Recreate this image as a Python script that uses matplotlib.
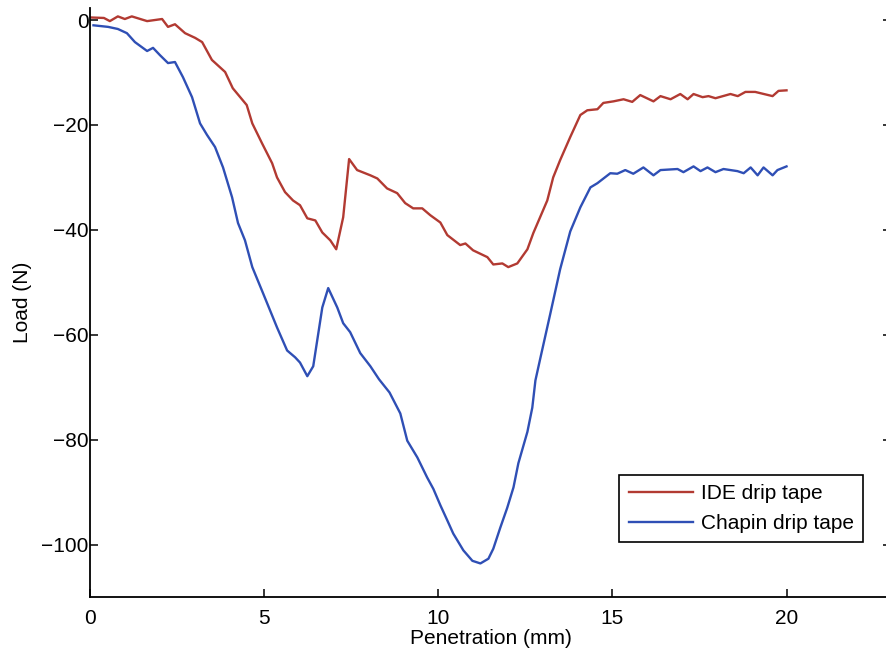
import matplotlib
matplotlib.use("Agg")
import matplotlib.pyplot as plt

# penetration (mm) / load (N)
ide_x = [0.0, 0.4, 0.57, 0.8, 1.0, 1.2, 1.64, 2.07, 2.24, 2.44, 2.73, 3.02, 3.22, 3.5,
         3.88, 4.1, 4.5, 4.66, 4.94, 5.23, 5.37, 5.6, 5.83, 6.03, 6.24, 6.47, 6.67, 6.9,
         7.07, 7.27, 7.44, 7.67, 8.05, 8.25, 8.53, 8.82, 9.05, 9.28, 9.54, 9.77, 10.06,
         10.26, 10.63, 10.78, 11.0, 11.41, 11.58, 11.84, 12.01, 12.27, 12.56, 12.73,
         12.93, 13.13, 13.3, 13.5, 13.79, 14.08, 14.28, 14.57, 14.74, 15.03, 15.32,
         15.57, 15.8, 16.18, 16.38, 16.67, 16.95, 17.16, 17.33, 17.59, 17.76, 17.96,
         18.39, 18.6, 18.82, 19.1, 19.6, 19.77, 20.0]
ide_y = [0.5, 0.4, -0.2, 0.7, 0.2, 0.7, -0.2, 0.2, -1.3, -0.8, -2.5, -3.4, -4.2, -7.6,
         -9.9, -13.0, -16.2, -19.7, -23.5, -27.3, -30.0, -32.8, -34.4, -35.3, -37.8,
         -38.2, -40.5, -42.0, -43.7, -37.6, -26.5, -28.6, -29.6, -30.2, -32.1, -33.0,
         -34.9, -35.9, -35.9, -37.2, -38.6, -41.0, -42.9, -42.6, -43.9, -45.2, -46.6,
         -46.4, -47.1, -46.4, -43.7, -40.6, -37.5, -34.4, -30.0, -26.7, -22.3, -18.1,
         -17.2, -17.0, -15.8, -15.5, -15.1, -15.6, -14.3, -15.5, -14.5, -15.1, -14.1,
         -15.1, -14.1, -14.7, -14.5, -14.9, -14.1, -14.5, -13.7, -13.7, -14.5, -13.5,
         -13.4]

chapin_x = [0.1, 0.52, 0.8, 1.06, 1.29, 1.64, 1.81, 2.01, 2.24, 2.44, 2.67, 2.93, 3.16,
            3.36, 3.59, 3.82, 4.08, 4.25, 4.45, 4.66, 4.97, 5.37, 5.66, 5.89, 6.03, 6.24,
            6.41, 6.67, 6.84, 7.1, 7.27, 7.47, 7.76, 8.05, 8.3, 8.6, 8.91, 9.11, 9.4,
            9.68, 9.86, 10.06, 10.26, 10.43, 10.72, 10.98, 11.21, 11.44, 11.58, 11.78,
            11.98, 12.16, 12.3, 12.56, 12.7, 12.79, 12.93, 13.22, 13.5, 13.79, 14.08,
            14.37, 14.57, 14.94, 15.14, 15.37, 15.6, 15.89, 16.18, 16.38, 16.87, 17.04,
            17.33, 17.53, 17.73, 17.96, 18.19, 18.59, 18.77, 18.97, 19.17, 19.34, 19.6,
            19.74, 20.0]
chapin_y = [-1.0, -1.3, -1.7, -2.5, -4.2, -5.9, -5.3, -6.7, -8.2, -8.0, -10.9, -14.7,
            -19.7, -21.9, -24.2, -28.1, -33.8, -38.7, -42.0, -47.1, -52.1, -58.6, -63.0,
            -64.3, -65.3, -67.9, -66.0, -54.8, -51.1, -54.8, -57.8, -59.5, -63.5, -66.0,
            -68.5, -71.0, -75.0, -80.2, -83.4, -87.2, -89.4, -92.5, -95.4, -97.9, -101.1,
            -103.1, -103.6, -102.7, -100.8, -96.8, -93.0, -89.1, -84.5, -78.5, -73.9,
            -68.7, -64.5, -55.9, -47.5, -40.3, -35.7, -31.9, -31.1, -29.2, -29.3, -28.6,
            -29.3, -28.1, -29.6, -28.6, -28.4, -29.0, -27.9, -28.8, -28.1, -29.0, -28.4,
            -28.8, -29.2, -28.1, -29.6, -28.1, -29.6, -28.6, -27.9]

xticks = [0, 5, 10, 15, 20]
yticks = [0, -20, -40, -60, -80, -100]

plt.rcParams['font.family'] = ['Liberation Sans', 'DejaVu Sans']
plt.rcParams['font.size'] = 15

fig = plt.figure(figsize=(8.86, 6.56), dpi=100)
ax = fig.add_axes([90/886, 59/656, 801/886, 589/656])

ax.plot(ide_x, ide_y, color='#b23a32', lw=1.7, label='IDE drip tape')
ax.plot(chapin_x, chapin_y, color='#2f4fb5', lw=1.7, label='Chapin drip tape')

ax.set_xlim(0, 23)
ax.set_ylim(-110, 2.3)
ax.set_xticks(xticks)
ax.set_yticks(yticks)

for s in ['top', 'right']:
    ax.spines[s].set_visible(False)
for s in ['left', 'bottom']:
    ax.spines[s].set_linewidth(1.3)

ax.tick_params(axis='x', direction='in', length=6, width=1.1, pad=9)
ax.tick_params(axis='y', direction='in', length=6, width=1.1, pad=1, right=True)

ax.set_xlabel('Penetration (mm)', labelpad=0)
ax.set_ylabel('Load (N)', labelpad=7)

leg = ax.legend(loc='lower right', bbox_to_anchor=(0.965, 0.093), borderaxespad=0,
                fancybox=False, edgecolor='black', framealpha=1, handlelength=3.1,
                handletextpad=0.35, borderpad=0.45)
leg.get_frame().set_linewidth(1.2)

fig.savefig('out.png', dpi=100)
